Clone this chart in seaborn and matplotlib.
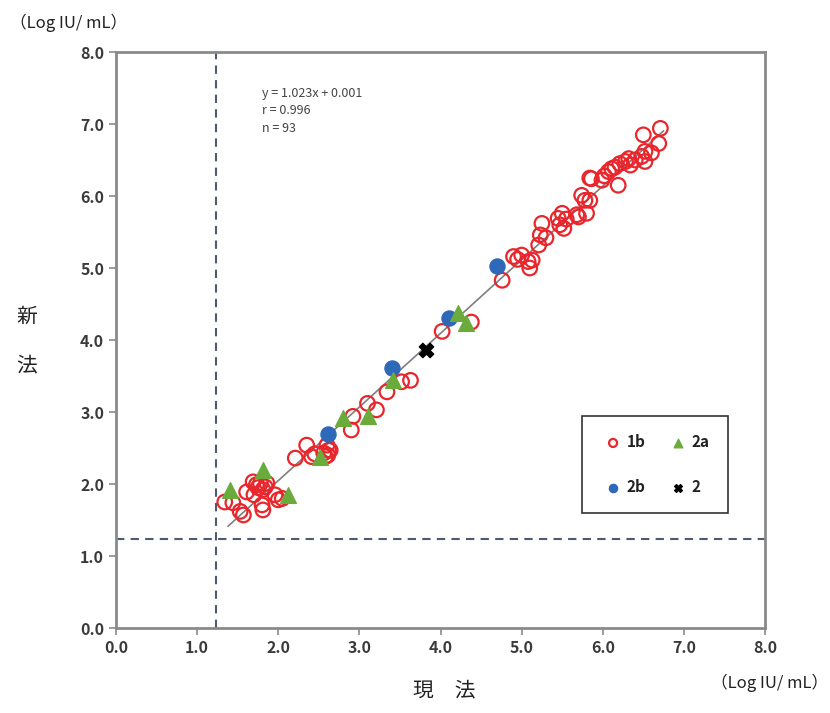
import numpy as np
import pandas as pd
import matplotlib
matplotlib.use("Agg")
import matplotlib.pyplot as plt
import seaborn as sns

# genotype 1b (open red circles)
x_1b = [1.34, 1.44, 1.53, 1.57, 1.61, 1.69, 1.73, 1.78, 1.81, 1.86, 1.80, 1.81,
        1.75, 1.70, 1.96, 2.00, 2.05, 2.21, 2.35, 2.41, 2.56, 2.60, 2.61, 2.64,
        2.58, 2.62, 2.92, 2.90, 3.10, 3.21, 3.34, 3.52, 3.63, 4.02, 4.38,
        4.76, 4.90, 5.00, 5.08, 5.10, 5.13, 5.21, 5.23, 5.25, 5.45, 5.47, 5.52,
        5.50, 5.68, 5.80, 5.78, 5.70, 5.74, 5.84, 5.84, 5.86, 5.99, 6.02, 6.07,
        6.11, 6.15, 6.19, 6.21, 6.28, 6.32, 6.34, 6.48, 6.52, 6.52, 6.50, 6.69,
        6.71, 5.55, 6.40, 1.84, 2.45, 5.30, 6.60, 4.95]
y_1b = [1.75, 1.74, 1.62, 1.57, 1.89, 2.03, 1.99, 2.01, 1.92, 2.01, 1.71, 1.64,
        1.95, 1.85, 1.85, 1.78, 1.80, 2.36, 2.54, 2.38, 2.43, 2.54, 2.40, 2.47,
        2.38, 2.47, 2.94, 2.75, 3.12, 3.03, 3.28, 3.42, 3.44, 4.12, 4.25,
        4.83, 5.16, 5.18, 5.09, 5.00, 5.11, 5.32, 5.46, 5.62, 5.69, 5.60, 5.55,
        5.76, 5.74, 5.76, 5.94, 5.71, 6.01, 5.94, 6.25, 6.24, 6.22, 6.28, 6.34,
        6.38, 6.40, 6.15, 6.45, 6.48, 6.52, 6.43, 6.55, 6.62, 6.48, 6.85, 6.73,
        6.94, 5.68, 6.50, 1.96, 2.42, 5.42, 6.60, 5.12]

# genotype 2a (green triangles)
x_2a = [1.41, 1.81, 2.12, 2.52, 2.80, 3.10, 3.42, 4.22, 4.32]
y_2a = [1.92, 2.19, 1.85, 2.38, 2.92, 2.94, 3.44, 4.37, 4.23]

# genotype 2b (blue filled circles)
x_2b = [2.61, 3.40, 4.10, 4.70]
y_2b = [2.70, 3.61, 4.30, 5.03]

# genotype 2 (black cross)
x_2 = [3.82]
y_2 = [3.86]

slope, intercept = 1.023, 0.001
fit_x = [1.38, 6.75]
cutoff = 1.23

df_1b = pd.DataFrame({"x": x_1b, "y": y_1b})
df_2a = pd.DataFrame({"x": x_2a, "y": y_2a})
df_2b = pd.DataFrame({"x": x_2b, "y": y_2b})
df_2 = pd.DataFrame({"x": x_2, "y": y_2})
df_fit = pd.DataFrame({"x": fit_x, "y": [slope * v + intercept for v in fit_x]})

sns.set_style("ticks")
plt.rcParams["font.family"] = ["Noto Sans CJK JP", "DejaVu Sans"]

fig = plt.figure(figsize=(8.3, 7.13), dpi=100)
ax = fig.add_axes([0.1398, 0.1192, 0.7819, 0.8078])

# limit of quantification lines
ax.axvline(cutoff, color="#505a6e", lw=1.5, ls=(0, (4, 3)), zorder=1)
ax.axhline(cutoff, color="#505a6e", lw=1.5, ls=(0, (4, 3)), zorder=1)

sns.lineplot(data=df_fit, x="x", y="y", ax=ax, color="#7f7f7f", lw=1.2, zorder=2)

sns.scatterplot(data=df_1b, x="x", y="y", ax=ax, marker="o", s=110,
                facecolors="none", edgecolor="#e8262c", linewidth=1.6,
                label="1b", zorder=3)
sns.scatterplot(data=df_2b, x="x", y="y", ax=ax, marker="o", s=120,
                color="#2e68b8", edgecolor="#2e68b8", label="2b", zorder=4)
sns.scatterplot(data=df_2a, x="x", y="y", ax=ax, marker="^", s=130,
                color="#6aab3c", edgecolor="#6aab3c", label="2a", zorder=4)
sns.scatterplot(data=df_2, x="x", y="y", ax=ax, marker="X", s=110,
                color="black", edgecolor="black", label="2", zorder=4)

ax.set_xlim(0, 8)
ax.set_ylim(0, 8)
ax.set_xticks(np.arange(0, 8.1, 1))
ax.set_yticks(np.arange(0, 8.1, 1))
ax.set_xticklabels([f"{v:.1f}" for v in np.arange(0, 8.1, 1)])
ax.set_yticklabels([f"{v:.1f}" for v in np.arange(0, 8.1, 1)])
ax.tick_params(colors="#8a8a8a", labelcolor="#3a3a3a", labelsize=11.5,
               length=5, width=1.2)
for lab in ax.get_xticklabels() + ax.get_yticklabels():
    lab.set_fontweight("bold")
for sp in ax.spines.values():
    sp.set_visible(True)
    sp.set_color("#8a8a8a")
    sp.set_linewidth(2)
ax.set_xlabel("")
ax.set_ylabel("")

ax.text(1.8, 7.52, "y = 1.023x + 0.001\nr = 0.996\nn = 93", fontsize=9,
        color="#444444", va="top", ha="left", linespacing=1.45)

leg = ax.legend(ncol=2, loc="upper left", bbox_to_anchor=(0.707, 0.382),
                frameon=True, fancybox=False, edgecolor="black",
                markerscale=0.55, handletextpad=0.1, columnspacing=1.3,
                labelspacing=1.9, borderpad=1.2, handlelength=1.6,
                prop={"weight": "bold", "size": 11})
leg.get_frame().set_linewidth(1.2)
for t in leg.get_texts():
    t.set_color("#222222")

fig.text(0.012, 0.968, "（Log IU/ mL）", fontsize=12, color="#222222",
         ha="left", va="center")
fig.text(0.998, 0.042, "（Log IU/ mL）", fontsize=12, color="#222222",
         ha="right", va="center")
fig.text(0.032, 0.556, "新", fontsize=15, color="#222222", ha="center", va="center")
fig.text(0.032, 0.488, "法", fontsize=15, color="#222222", ha="center", va="center")
fig.text(0.535, 0.032, "現　法", fontsize=15, color="#222222", ha="center", va="center")

fig.savefig("out.png", dpi=100)
plt.close(fig)
